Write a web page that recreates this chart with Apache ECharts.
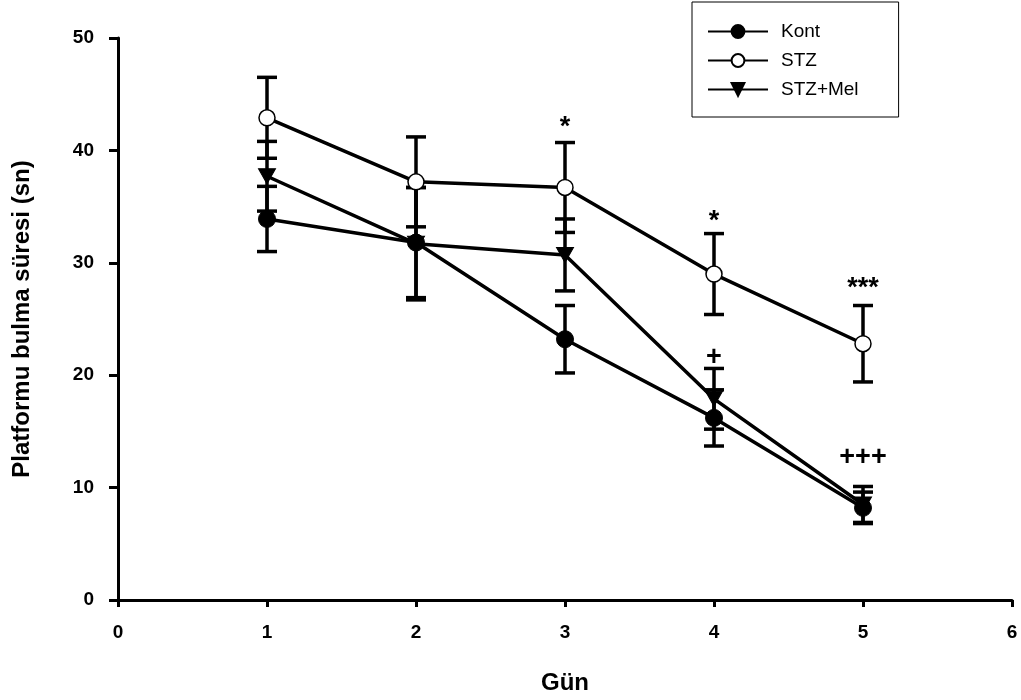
<!DOCTYPE html>
<html>
<head>
<meta charset="utf-8">
<script src="https://cdn.jsdelivr.net/npm/echarts@6/dist/echarts.min.js"></script>
<style>
  body { margin: 0; background: #fff; }
  #chart { width: 1021px; height: 700px; }
</style>
</head>
<body>
<div id="chart"></div>
<script>
  var days = [1, 2, 3, 4, 5];
  var kont = [33.9, 31.8, 23.2, 16.2, 8.2];
  var kontSE = [2.9, 4.9, 3.0, 2.5, 1.4];
  var stz = [42.9, 37.2, 36.7, 29.0, 22.8];
  var stzSE = [3.6, 4.0, 4.0, 3.6, 3.4];
  var mel = [37.7, 31.7, 30.7, 17.9, 8.5];
  var melSE = [3.1, 5.0, 3.2, 2.7, 1.6];
  // significance marks: day, height, text
  var markDays = [3, 4, 5, 4, 5];
  var markY = [42.0, 33.7, 27.7, 21.6, 12.7];
  var markText = ['*', '*', '***', '+', '+++'];

  function pairs(vals) {
    return days.map(function (d, i) { return [d, vals[i]]; });
  }
  function bars(vals, se) {
    return days.map(function (d, i) { return [d, vals[i] - se[i], vals[i] + se[i]]; });
  }

  function renderBar(params, api) {
    var top = api.coord([api.value(0), api.value(2)]);
    var bot = api.coord([api.value(0), api.value(1)]);
    var w = 10;
    var st = { stroke: '#000', lineWidth: 3.5 };
    return {
      type: 'group',
      children: [
        { type: 'line', shape: { x1: top[0], y1: top[1], x2: bot[0], y2: bot[1] }, style: st },
        { type: 'line', shape: { x1: top[0] - w, y1: top[1], x2: top[0] + w, y2: top[1] }, style: st },
        { type: 'line', shape: { x1: bot[0] - w, y1: bot[1], x2: bot[0] + w, y2: bot[1] }, style: st }
      ]
    };
  }

  var chart = echarts.init(document.getElementById('chart'));
  var axisFont = { color: '#000', fontWeight: 'bold', fontSize: 19, fontFamily: 'Liberation Sans, Arial' };
  var titleFont = { color: '#000', fontWeight: 'bold', fontSize: 24, fontFamily: 'Liberation Sans, Arial' };

  chart.setOption({
    animation: false,
    grid: { left: 118, right: 9, top: 38, bottom: 98 },
    legend: {
      data: ['Kont', 'STZ', 'STZ+Mel'],
      orient: 'vertical',
      left: 692,
      top: 2,
      padding: [20, 40, 18, 15],
      borderColor: '#000',
      borderWidth: 1,
      itemWidth: 60,
      itemHeight: 16,
      itemGap: 10,
      textStyle: { color: '#000', fontSize: 19, fontFamily: 'Liberation Sans, Arial', padding: [0, 0, 0, 8] }
    },
    xAxis: {
      type: 'value',
      min: 0,
      max: 6,
      interval: 1,
      name: 'Gün',
      nameLocation: 'middle',
      nameGap: 71,
      nameTextStyle: titleFont,
      axisLine: { lineStyle: { color: '#000', width: 3 } },
      axisTick: { length: 7, lineStyle: { color: '#000', width: 3 } },
      axisLabel: Object.assign({ margin: 23 }, axisFont),
      splitLine: { show: false }
    },
    yAxis: {
      type: 'value',
      min: 0,
      max: 50,
      interval: 10,
      name: 'Platformu bulma süresi (sn)',
      nameLocation: 'middle',
      nameGap: 84,
      nameTextStyle: titleFont,
      axisLine: { show: true, lineStyle: { color: '#000', width: 3 } },
      axisTick: { show: true, length: 9, lineStyle: { color: '#000', width: 3 } },
      axisLabel: Object.assign({ margin: 24 }, axisFont),
      splitLine: { show: false }
    },
    series: [
      { type: 'custom', renderItem: renderBar, data: bars(kont, kontSE), z: 1, silent: true },
      { type: 'custom', renderItem: renderBar, data: bars(stz, stzSE), z: 1, silent: true },
      { type: 'custom', renderItem: renderBar, data: bars(mel, melSE), z: 1, silent: true },
      {
        name: 'Kont', type: 'line', data: pairs(kont), z: 3,
        symbol: 'circle', symbolSize: 17,
        lineStyle: { color: '#000', width: 3.5 },
        itemStyle: { color: '#000', borderColor: '#000', borderWidth: 1 }
      },
      {
        name: 'STZ', type: 'line', data: pairs(stz), z: 3,
        symbol: 'circle', symbolSize: 16,
        lineStyle: { color: '#000', width: 3.5 },
        itemStyle: { color: '#fff', borderColor: '#000', borderWidth: 1.5 }
      },
      {
        name: 'STZ+Mel', type: 'line', data: pairs(mel), z: 3,
        symbol: 'triangle', symbolSize: [17, 15], symbolRotate: 180,
        lineStyle: { color: '#000', width: 3.5 },
        itemStyle: { color: '#000', borderColor: '#000', borderWidth: 1 }
      },
      {
        type: 'custom', z: 4, silent: true,
        data: markDays.map(function (d, i) { return [d, markY[i], i]; }),
        renderItem: function (params, api) {
          var p = api.coord([api.value(0), api.value(1)]);
          var t = markText[api.value(2)];
          return {
            type: 'text',
            x: p[0], y: p[1],
            style: {
              text: t, align: 'center', verticalAlign: 'middle',
              fill: '#000', fontWeight: 'bold',
              fontSize: 27,
              fontFamily: 'Liberation Sans, Arial'
            }
          };
        }
      }
    ]
  });
</script>
</body>
</html>
